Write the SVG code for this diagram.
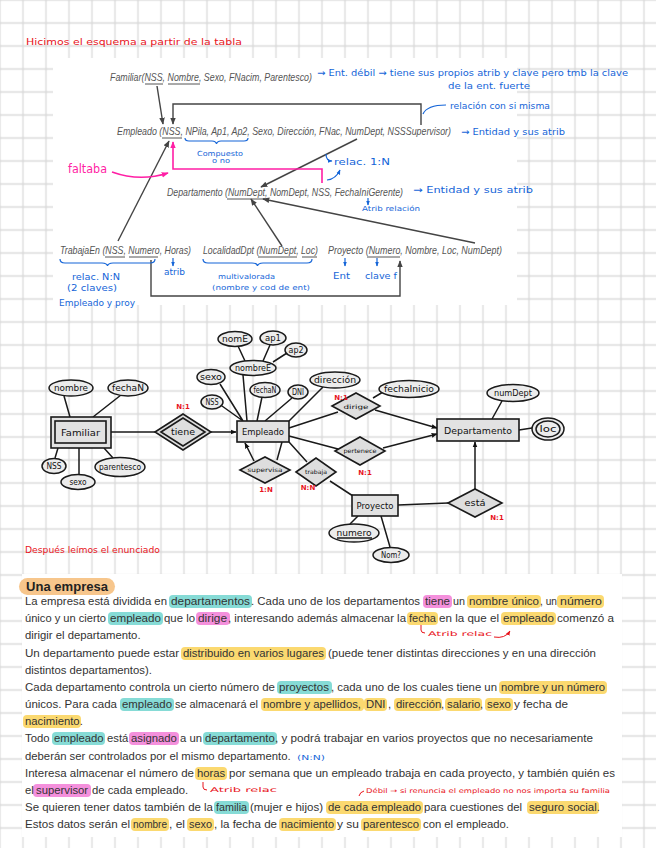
<svg xmlns="http://www.w3.org/2000/svg" width="656" height="848" viewBox="0 0 656 848">
<defs>
<pattern id="grid" x="-11.5" y="-11.5" width="23" height="23" patternUnits="userSpaceOnUse"><path d="M11.5 0V23M0 11.5H23" stroke="#d9d9d9" stroke-width="1.3" fill="none"/></pattern>
<marker id="ag" viewBox="0 0 10 10" refX="9" refY="5" markerWidth="7" markerHeight="7" markerUnits="userSpaceOnUse" orient="auto"><path d="M0 1L10 5L0 9z" fill="#444"/></marker>
<marker id="ap" viewBox="0 0 10 10" refX="9" refY="5" markerWidth="7" markerHeight="7" markerUnits="userSpaceOnUse" orient="auto"><path d="M0 1L10 5L0 9z" fill="#ff1fa5"/></marker>
<marker id="ab" viewBox="0 0 10 10" refX="9" refY="5" markerWidth="5" markerHeight="5" markerUnits="userSpaceOnUse" orient="auto"><path d="M0 1L10 5L0 9z" fill="#1565d8"/></marker>
<marker id="ar" viewBox="0 0 10 10" refX="9" refY="5" markerWidth="5" markerHeight="5" markerUnits="userSpaceOnUse" orient="auto"><path d="M0 1L10 5L0 9z" fill="#e8141c"/></marker>
<marker id="ak" viewBox="0 0 10 10" refX="9" refY="5" markerWidth="6" markerHeight="6" markerUnits="userSpaceOnUse" orient="auto"><path d="M0 1L10 5L0 9z" fill="#111"/></marker>
</defs>
<style>
.sch{font-family:"Liberation Sans",Arial,sans-serif;font-style:italic;font-size:10.5px;fill:#555}
.ul{stroke:#555;stroke-width:1;fill:none}
.gc{stroke:#444;stroke-width:1.4;fill:none}
.bl{font-family:"DejaVu Sans",sans-serif;font-size:9.5px;fill:#1565d8}
.bls{font-family:"DejaVu Sans",sans-serif;font-size:7px;fill:#1565d8}
.bp{stroke:#1565d8;stroke-width:1.2;fill:none}
.red{font-family:"DejaVu Sans",sans-serif;font-size:9.5px;fill:#e8141c}
.reds{font-family:"DejaVu Sans",sans-serif;font-size:6.5px;fill:#e8141c}
.card{font-family:"DejaVu Sans",sans-serif;font-size:7px;font-weight:bold;fill:#e8141c;text-anchor:middle}
.ent{fill:#e2e2e2;stroke:#1a1a1a;stroke-width:1.6}
.att{fill:#ececec;stroke:#1a1a1a;stroke-width:1.5}
.rel{fill:#dedede;stroke:#1a1a1a;stroke-width:1.6}
.ln{stroke:#1a1a1a;stroke-width:1.5;fill:none}
.et{font-family:"DejaVu Sans",sans-serif;font-size:9px;fill:#111;text-anchor:middle}
.at{font-family:"DejaVu Sans",sans-serif;font-size:8px;fill:#111;text-anchor:middle}
.rt{font-family:"DejaVu Sans",sans-serif;font-size:6px;fill:#111;text-anchor:middle}
.b{font-family:"Liberation Sans",Arial,sans-serif;font-size:11.3px;fill:#333}
.hy{fill:#fbd970}.ht{fill:#86dbd6}.hp{fill:#f490dc}
</style>
<rect width="656" height="848" fill="#fff"/>
<rect width="656" height="848" fill="url(#grid)"/>
<rect x="53" y="58" width="464" height="247" fill="#fff"/>
<rect x="22" y="574" width="600" height="263" fill="#fff"/>

<text class="red" x="26" y="45" textLength="216" lengthAdjust="spacingAndGlyphs">Hicimos el esquema a partir de la tabla</text>

<g id="schema">
<text class="sch" x="110" y="81" textLength="202" lengthAdjust="spacingAndGlyphs">Familiar(NSS, Nombre, Sexo, FNacim, Parentesco)</text>
<path class="ul" d="M145 84H163M168 84H200"/>
<text class="sch" x="117" y="135" textLength="334" lengthAdjust="spacingAndGlyphs">Empleado (NSS, NPila, Ap1, Ap2, Sexo, Dirección, FNac, NumDept, NSSSupervisor)</text>
<path class="ul" d="M162 138H182"/>
<text class="sch" x="167" y="196" textLength="236" lengthAdjust="spacingAndGlyphs">Departamento (NumDept, NomDept, NSS, FechaIniGerente)</text>
<path class="ul" d="M227 199H265"/>
<text class="sch" x="60" y="254" textLength="131" lengthAdjust="spacingAndGlyphs">TrabajaEn (NSS, Numero, Horas)</text>
<path class="ul" d="M105 257H125M129 257H158"/>
<text class="sch" x="203" y="254" textLength="115" lengthAdjust="spacingAndGlyphs">LocalidadDpt (NumDept, Loc)</text>
<path class="ul" d="M258 257H297M302 257H317"/>
<text class="sch" x="328" y="254" textLength="174" lengthAdjust="spacingAndGlyphs">Proyecto (Numero, Nombre, Loc, NumDept)</text>
<path class="ul" d="M367 257H400"/>
</g>

<g id="schema-connectors">
<path class="gc" d="M157 86L163 124" marker-end="url(#ag)"/>
<path class="gc" d="M421 125V104H173V124" marker-end="url(#ag)"/>
<path class="gc" d="M357 139L261 187" marker-end="url(#ag)"/>
<path class="gc" d="M118 241L169 141" marker-end="url(#ag)"/>
<path class="gc" d="M282 246L251 199" marker-end="url(#ag)"/>
<path class="gc" d="M475 243L263 199" marker-end="url(#ag)"/>
<path class="gc" d="M151 260V296H400V261" marker-end="url(#ag)"/>
<path d="M322 183V169H173V142" stroke="#ff1fa5" stroke-width="1.6" fill="none" marker-end="url(#ap)"/>
<path d="M112 172Q140 182 168 173" stroke="#ff1fa5" stroke-width="1.6" fill="none" marker-end="url(#ap)"/>
</g>

<g id="schema-notes">
<text x="68" y="173" font-family="DejaVu Sans,sans-serif" font-size="11.5" fill="#ff1fa5" textLength="39" lengthAdjust="spacingAndGlyphs">faltaba</text>
<text class="bl" x="317" y="76" textLength="311" lengthAdjust="spacingAndGlyphs">→ Ent. débil → tiene sus propios atrib y clave pero tmb la clave</text>
<text class="bl" x="448" y="89" textLength="82" lengthAdjust="spacingAndGlyphs">de la ent. fuerte</text>
<path class="bp" d="M423 114Q427 105 446 105"/>
<text class="bl" x="450" y="109" textLength="100" lengthAdjust="spacingAndGlyphs">relación con si misma</text>
<text class="bl" x="461" y="135" textLength="104" lengthAdjust="spacingAndGlyphs">→ Entidad y sus atrib</text>
<path class="bp" d="M185 138Q185 141 189 141H212Q216 141 216.5 144Q217 141 221 141H244Q248 141 248 138"/>
<text class="bls" x="197" y="156" textLength="46" lengthAdjust="spacingAndGlyphs">Compuesto</text>
<text class="bls" x="212" y="163" textLength="18" lengthAdjust="spacingAndGlyphs">o no</text>
<path class="bp" d="M326 154Q326 161 332 161" marker-end="url(#ab)"/>
<text class="bl" x="334" y="165" textLength="56" lengthAdjust="spacingAndGlyphs">relac. 1:N</text>
<path class="bp" d="M327 180Q336 179 340 170" marker-end="url(#ab)"/>
<text class="bl" x="413" y="193" textLength="120" lengthAdjust="spacingAndGlyphs">→ Entidad y sus atrib</text>
<path class="bp" d="M368 198V205" marker-end="url(#ab)"/>
<text class="bls" x="362" y="211" textLength="58" lengthAdjust="spacingAndGlyphs">Atrib relación</text>
<path class="bp" d="M60 259Q60 263 65 263H102Q107 263 107.5 266Q108 263 113 263H150Q155 263 155 259"/>
<text class="bl" x="72" y="280" textLength="48" lengthAdjust="spacingAndGlyphs">relac. N:N</text>
<text class="bl" x="67" y="291" textLength="50" lengthAdjust="spacingAndGlyphs">(2 claves)</text>
<text class="bl" x="59" y="306" textLength="76" lengthAdjust="spacingAndGlyphs">Empleado y proy</text>
<path class="bp" d="M173 258V266" marker-end="url(#ab)"/>
<text class="bl" x="164" y="275" textLength="21" lengthAdjust="spacingAndGlyphs">atrib</text>
<path class="bp" d="M203 259Q203 263 208 263H252Q257 263 257.5 266Q258 263 263 263H307Q312 263 312 259"/>
<text class="bls" x="218" y="279" textLength="57" lengthAdjust="spacingAndGlyphs">multivalorada</text>
<text class="bls" x="212" y="290" textLength="98" lengthAdjust="spacingAndGlyphs">(nombre y cod de ent)</text>
<path class="bp" d="M345 258V266" marker-end="url(#ab)"/>
<text class="bl" x="333" y="279" textLength="17" lengthAdjust="spacingAndGlyphs">Ent</text>
<path class="bp" d="M377 258V266" marker-end="url(#ab)"/>
<text class="bl" x="365" y="279" textLength="32" lengthAdjust="spacingAndGlyphs">clave f</text>
</g>

<g id="er-connectors">
<path class="ln" d="M64 396L70 417M121 395L93 417M58 448L55 458M79 448V474M104 448L113 458M111 432H155"/>
<path class="ln" d="M211 432H236" marker-end="url(#ak)"/>
<path class="ln" d="M222 406L243 421M220 384L243 421M243 375L247 421M238 346L245 361M270 345L263 361M287 353L273 362M262 397L257 421M292 398L265 421M323 387L289 421"/>
<path class="ln" d="M289 428L338 412M373 398L383 392M289 436L338 449M277 460L282 442M289 442L307 462M330 481L353 496M502 401L492 419M519 430L532 428M358 516L350 524M381 516L390 547M398 505L448 503"/>
<path class="ln" d="M375 410L437 428" marker-end="url(#ak)"/>
<path class="ln" d="M383 448L437 434" marker-end="url(#ak)"/>
<path class="ln" d="M254 461L245 443" marker-end="url(#ak)"/>
<path class="ln" d="M475 489V442" marker-end="url(#ak)"/>
</g>

<g id="familiar"><rect class="ent" x="51" y="417" width="60" height="31"/><rect class="ent" x="55" y="421" width="51" height="22"/><text class="et" x="80.5" y="436" textLength="39" lengthAdjust="spacingAndGlyphs">Familiar</text></g>
<g id="f-nombre"><ellipse class="att" cx="71" cy="388" rx="22" ry="8"/><text class="at" x="71" y="391" textLength="34" lengthAdjust="spacingAndGlyphs">nombre</text></g>
<g id="f-fechaN"><ellipse class="att" cx="128" cy="388" rx="20" ry="8"/><text class="at" x="128" y="391" textLength="32" lengthAdjust="spacingAndGlyphs">fechaN</text></g>
<g id="f-nss"><ellipse class="att" cx="54" cy="466" rx="12" ry="7.5"/><text class="at" x="54" y="469" textLength="15" lengthAdjust="spacingAndGlyphs">NSS</text></g>
<g id="f-sexo"><ellipse class="att" cx="78" cy="482" rx="17" ry="7.5"/><text class="at" x="78" y="485" textLength="17" lengthAdjust="spacingAndGlyphs">sexo</text></g>
<g id="f-parentesco"><ellipse class="att" cx="120" cy="467" rx="25" ry="9.5"/><text class="at" x="120" y="470" textLength="42" lengthAdjust="spacingAndGlyphs">parentesco</text></g>
<g id="tiene"><path class="rel" d="M155 432L183 414L211 432L183 450Z"/><path class="rel" d="M161 432L183 418L205 432L183 446Z"/><text class="at" x="183" y="435" textLength="24" lengthAdjust="spacingAndGlyphs">tiene</text><text class="card" x="183" y="409">N:1</text></g>

<g id="empleado"><rect class="ent" x="237" y="421" width="52" height="21"/><text class="et" x="263" y="435" textLength="42" lengthAdjust="spacingAndGlyphs">Empleado</text></g>
<g id="e-nss"><ellipse class="att" cx="212" cy="402" rx="11" ry="7"/><text class="at" x="212" y="405" textLength="13" lengthAdjust="spacingAndGlyphs">NSS</text></g>
<g id="e-sexo"><ellipse class="att" cx="211" cy="377" rx="14" ry="7.5"/><text class="at" x="211" y="380" textLength="22" lengthAdjust="spacingAndGlyphs">sexo</text></g>
<g id="e-nombreE"><ellipse class="att" cx="253" cy="368" rx="23" ry="7.5"/><text class="at" x="253" y="371" textLength="36" lengthAdjust="spacingAndGlyphs">nombreE</text></g>
<g id="e-nomE"><ellipse class="att" cx="235" cy="339" rx="17" ry="7.5"/><text class="at" x="235" y="342" textLength="26" lengthAdjust="spacingAndGlyphs">nomE</text></g>
<g id="e-ap1"><ellipse class="att" cx="273" cy="338" rx="13" ry="7"/><text class="at" x="273" y="341" textLength="16" lengthAdjust="spacingAndGlyphs">ap1</text></g>
<g id="e-ap2"><ellipse class="att" cx="296" cy="350" rx="11" ry="7"/><text class="at" x="296" y="353" textLength="15" lengthAdjust="spacingAndGlyphs">ap2</text></g>
<g id="e-fechaN"><ellipse class="att" cx="265" cy="390" rx="15" ry="7.5"/><text class="at" x="265" y="393" textLength="23" lengthAdjust="spacingAndGlyphs">fechaN</text></g>
<g id="e-dni"><ellipse class="att" cx="298" cy="392" rx="10" ry="7"/><text class="at" x="298" y="395" textLength="12" lengthAdjust="spacingAndGlyphs">DNI</text></g>
<g id="e-direccion"><ellipse class="att" cx="335" cy="380" rx="25" ry="8"/><text class="at" x="335" y="383" textLength="42" lengthAdjust="spacingAndGlyphs">dirección</text></g>

<g id="dirige"><path class="rel" d="M332 406L356 393L380 406L356 419Z"/><text class="rt" x="356" y="409" textLength="25" lengthAdjust="spacingAndGlyphs" font-size="7">dirige</text><text class="card" x="341" y="400">N:1</text></g>
<g id="fechaInicio"><ellipse class="att" cx="409" cy="389" rx="30" ry="8.5"/><text class="at" x="409" y="392" textLength="50" lengthAdjust="spacingAndGlyphs">fechaInicio</text></g>
<g id="pertenece"><path class="rel" d="M335 451L360 437L385 451L360 465Z"/><text class="rt" x="360" y="453" textLength="33" lengthAdjust="spacingAndGlyphs">pertenece</text><text class="card" x="365" y="475">N:1</text></g>

<g id="departamento"><rect class="ent" x="437" y="419" width="82" height="22"/><text class="et" x="478" y="434" textLength="68" lengthAdjust="spacingAndGlyphs">Departamento</text></g>
<g id="numDept"><ellipse class="att" cx="513" cy="393" rx="26" ry="8.5"/><text class="at" x="513" y="396" textLength="38" lengthAdjust="spacingAndGlyphs">numDept</text></g>
<g id="loc"><ellipse class="att" cx="548" cy="429" rx="16" ry="11"/><ellipse class="att" cx="548" cy="429" rx="12" ry="8"/><text class="at" x="548" y="432" textLength="17" lengthAdjust="spacingAndGlyphs">loc</text></g>

<g id="supervisa"><path class="rel" d="M240 470L265 457L290 470L265 483Z"/><text class="rt" x="265" y="472" textLength="35" lengthAdjust="spacingAndGlyphs">supervisa</text><text class="card" x="266" y="492">1:N</text></g>
<g id="trabaja"><path class="rel" d="M296 472L316 458L336 472L316 486Z"/><text class="rt" x="316" y="474" textLength="22" lengthAdjust="spacingAndGlyphs">trabaja</text><text class="card" x="308" y="490">N:N</text></g>

<g id="proyecto"><rect class="ent" x="352" y="495" width="46" height="21"/><text class="et" x="375" y="509" textLength="37" lengthAdjust="spacingAndGlyphs">Proyecto</text></g>
<g id="numero"><ellipse class="att" cx="354" cy="533" rx="25" ry="9"/><text class="at" x="354" y="536" textLength="35" lengthAdjust="spacingAndGlyphs">numero</text><path class="ln" stroke-width="0.8" d="M337 538H372"/></g>
<g id="nom"><ellipse class="att" cx="391" cy="555" rx="18" ry="7.5"/><text class="at" x="391" y="558" textLength="20" lengthAdjust="spacingAndGlyphs">Nom?</text></g>
<g id="esta"><path class="rel" d="M448 503L475 489L502 503L475 517Z"/><text class="at" x="475" y="506" textLength="21" lengthAdjust="spacingAndGlyphs">está</text><text class="card" x="497" y="520">N:1</text></g>

<text class="red" x="25" y="553" textLength="135" lengthAdjust="spacingAndGlyphs" font-size="8">Después leímos el enunciado</text>

<g id="enunciado">
<rect x="19" y="578" width="96" height="17" rx="8.5" fill="#f7c68c"/>
<text x="26" y="591" font-family="Liberation Sans,Arial,sans-serif" font-size="13.5" font-weight="bold" fill="#222" textLength="82" lengthAdjust="spacingAndGlyphs">Una empresa</text>
<rect class="ht" x="169" y="595" width="83" height="13" rx="4"/>
<rect class="hp" x="423" y="595" width="29" height="13" rx="4"/>
<rect class="hy" x="467" y="595" width="74" height="13" rx="4"/>
<rect class="hy" x="557" y="595" width="47" height="13" rx="4"/>
<rect class="ht" x="108" y="612" width="55" height="13" rx="4"/>
<rect class="hp" x="196" y="612" width="34" height="13" rx="4"/>
<rect class="hy" x="407" y="612" width="31" height="13" rx="4"/>
<rect class="hy" x="501" y="612" width="55" height="13" rx="4"/>
<rect class="hy" x="181" y="647" width="145" height="13" rx="4"/>
<rect class="ht" x="277" y="681" width="55" height="13" rx="4"/>
<rect class="hy" x="499" y="681" width="108" height="13" rx="4"/>
<rect class="ht" x="120" y="698" width="54" height="13" rx="4"/>
<rect class="hy" x="261" y="698" width="103" height="13" rx="4"/>
<rect class="hy" x="364" y="698" width="23" height="13" rx="4"/>
<rect class="hy" x="394" y="698" width="48" height="13" rx="4"/>
<rect class="hy" x="445" y="698" width="37" height="13" rx="4"/>
<rect class="hy" x="485" y="698" width="28" height="13" rx="4"/>
<rect class="hy" x="23" y="715" width="58" height="13" rx="4"/>
<rect class="ht" x="52" y="732" width="53" height="13" rx="4"/>
<rect class="hp" x="129" y="732" width="50" height="13" rx="4"/>
<rect class="ht" x="203" y="732" width="74" height="13" rx="4"/>
<rect class="hy" x="195" y="767" width="32" height="13" rx="4"/>
<rect class="hp" x="33" y="784" width="58" height="13" rx="4"/>
<rect class="ht" x="214" y="801" width="35" height="13" rx="4"/>
<rect class="hy" x="326" y="801" width="97" height="13" rx="4"/>
<rect class="hy" x="527" y="801" width="72" height="13" rx="4"/>
<rect class="hy" x="131" y="818" width="38" height="13" rx="4"/>
<rect class="hy" x="187" y="818" width="27" height="13" rx="4"/>
<rect class="hy" x="279" y="818" width="57" height="13" rx="4"/>
<rect class="hy" x="361" y="818" width="60" height="13" rx="4"/>

<text class="b" x="25" y="605" textLength="142" lengthAdjust="spacingAndGlyphs">La empresa está dividida en</text>
<text class="b" x="171" y="605" textLength="79" lengthAdjust="spacingAndGlyphs">departamentos</text>
<text class="b" x="251" y="605" textLength="169" lengthAdjust="spacingAndGlyphs">. Cada uno de los departamentos</text>
<text class="b" x="425" y="605" textLength="25" lengthAdjust="spacingAndGlyphs">tiene</text>
<text class="b" x="453" y="605" textLength="12" lengthAdjust="spacingAndGlyphs">un</text>
<text class="b" x="469" y="605" textLength="70" lengthAdjust="spacingAndGlyphs">nombre único</text>
<text class="b" x="540" y="605" textLength="17" lengthAdjust="spacingAndGlyphs">, un</text>
<text class="b" x="560" y="605" textLength="42" lengthAdjust="spacingAndGlyphs">número</text>

<text class="b" x="25" y="622" textLength="81" lengthAdjust="spacingAndGlyphs">único y un cierto</text>
<text class="b" x="110" y="622" textLength="51" lengthAdjust="spacingAndGlyphs">empleado</text>
<text class="b" x="164" y="622" textLength="31" lengthAdjust="spacingAndGlyphs">que lo</text>
<text class="b" x="198" y="622" textLength="29" lengthAdjust="spacingAndGlyphs">dirige</text>
<text class="b" x="228" y="622" textLength="178" lengthAdjust="spacingAndGlyphs">, interesando además almacenar la</text>
<text class="b" x="409" y="622" textLength="27" lengthAdjust="spacingAndGlyphs">fecha</text>
<text class="b" x="439" y="622" textLength="60" lengthAdjust="spacingAndGlyphs">en la que el</text>
<text class="b" x="503" y="622" textLength="51" lengthAdjust="spacingAndGlyphs">empleado</text>
<text class="b" x="557" y="622" textLength="57" lengthAdjust="spacingAndGlyphs">comenzó a</text>

<text class="b" x="25" y="639">dirigir el departamento.</text>

<text class="b" x="25" y="657" textLength="154" lengthAdjust="spacingAndGlyphs">Un departamento puede estar</text>
<text class="b" x="183" y="657" textLength="141" lengthAdjust="spacingAndGlyphs">distribuido en varios lugares</text>
<text class="b" x="328" y="657" textLength="268" lengthAdjust="spacingAndGlyphs">(puede tener distintas direcciones y en una dirección</text>

<text class="b" x="25" y="674">distintos departamentos).</text>

<text class="b" x="25" y="691" textLength="250" lengthAdjust="spacingAndGlyphs">Cada departamento controla un cierto número de</text>
<text class="b" x="279" y="691" textLength="50" lengthAdjust="spacingAndGlyphs">proyectos</text>
<text class="b" x="331" y="691" textLength="166" lengthAdjust="spacingAndGlyphs">, cada uno de los cuales tiene un</text>
<text class="b" x="501" y="691" textLength="104" lengthAdjust="spacingAndGlyphs">nombre y un número</text>

<text class="b" x="25" y="708" textLength="92" lengthAdjust="spacingAndGlyphs">únicos. Para cada</text>
<text class="b" x="122" y="708" textLength="50" lengthAdjust="spacingAndGlyphs">empleado</text>
<text class="b" x="175" y="708" textLength="83" lengthAdjust="spacingAndGlyphs">se almacenará el</text>
<text class="b" x="263" y="708">nombre y apellidos,</text>
<text class="b" x="366" y="708">DNI</text>
<text class="b" x="388" y="708">,</text>
<text class="b" x="396" y="708">dirección</text>
<text class="b" x="441" y="708">,</text>
<text class="b" x="447" y="708">salario</text>
<text class="b" x="480" y="708">,</text>
<text class="b" x="487" y="708">sexo</text>
<text class="b" x="514" y="708" textLength="54" lengthAdjust="spacingAndGlyphs">y fecha de</text>

<text class="b" x="25" y="725">nacimiento.</text>

<text class="b" x="25" y="742">Todo</text>
<text class="b" x="54" y="742">empleado</text>
<text class="b" x="107" y="742">está</text>
<text class="b" x="131" y="742">asignado</text>
<text class="b" x="180" y="742">a un</text>
<text class="b" x="205" y="742">departamento</text>
<text class="b" x="275" y="742" textLength="318" lengthAdjust="spacingAndGlyphs">, y podrá trabajar en varios proyectos que no necesariamente</text>

<text class="b" x="25" y="760">deberán ser controlados por el mismo departamento.</text>
<text class="bls" x="297" y="760" textLength="28" lengthAdjust="spacingAndGlyphs">(N:N)</text>

<text class="b" x="25" y="777" textLength="169" lengthAdjust="spacingAndGlyphs">Interesa almacenar el número de</text>
<text class="b" x="197" y="777">horas</text>
<text class="b" x="229" y="777" textLength="386" lengthAdjust="spacingAndGlyphs">por semana que un empleado trabaja en cada proyecto, y también quién es</text>

<text class="b" x="25" y="794">el</text>
<text class="b" x="36" y="794">supervisor</text>
<text class="b" x="92" y="794">de cada empleado.</text>

<text class="b" x="25" y="811" textLength="188" lengthAdjust="spacingAndGlyphs">Se quieren tener datos también de la</text>
<text class="b" x="216" y="811" textLength="31" lengthAdjust="spacingAndGlyphs">familia</text>
<text class="b" x="250" y="811" textLength="73" lengthAdjust="spacingAndGlyphs">(mujer e hijos)</text>
<text class="b" x="328" y="811" textLength="93" lengthAdjust="spacingAndGlyphs">de cada empleado</text>
<text class="b" x="424" y="811" textLength="98" lengthAdjust="spacingAndGlyphs">para cuestiones del</text>
<text class="b" x="529" y="811" textLength="71" lengthAdjust="spacingAndGlyphs">seguro social.</text>

<text class="b" x="25" y="828" textLength="105" lengthAdjust="spacingAndGlyphs">Estos datos serán el</text>
<text class="b" x="133" y="828" textLength="34" lengthAdjust="spacingAndGlyphs">nombre</text>
<text class="b" x="169" y="828" textLength="16" lengthAdjust="spacingAndGlyphs">, el</text>
<text class="b" x="189" y="828" textLength="23" lengthAdjust="spacingAndGlyphs">sexo</text>
<text class="b" x="214" y="828" textLength="63" lengthAdjust="spacingAndGlyphs">, la fecha de</text>
<text class="b" x="281" y="828" textLength="53" lengthAdjust="spacingAndGlyphs">nacimiento</text>
<text class="b" x="337" y="828" textLength="22" lengthAdjust="spacingAndGlyphs">y su</text>
<text class="b" x="363" y="828" textLength="56" lengthAdjust="spacingAndGlyphs">parentesco</text>
<text class="b" x="423" y="828" textLength="86" lengthAdjust="spacingAndGlyphs">con el empleado.</text>
</g>

<g id="text-notes">
<path d="M421 625V630Q421 633 425 633" stroke="#e8141c" stroke-width="1" fill="none"/>
<text class="reds" x="428" y="636" textLength="64" lengthAdjust="spacingAndGlyphs" font-size="7.5">Atrib relac</text>
<path d="M494 637Q505 639 510 631" stroke="#e8141c" stroke-width="1" fill="none" marker-end="url(#ar)"/>
<path d="M203 782V787Q203 790 207 790" stroke="#e8141c" stroke-width="1" fill="none"/>
<text class="reds" x="210" y="792" textLength="67" lengthAdjust="spacingAndGlyphs" font-size="7.5">Atrib relac</text>
<path d="M359 796Q360 792 364 791" stroke="#e8141c" stroke-width="1" fill="none"/>
<text class="reds" x="366" y="793" textLength="244" lengthAdjust="spacingAndGlyphs">Débil → si renuncia el empleado no nos importa su familia</text>
</g>
</svg>
